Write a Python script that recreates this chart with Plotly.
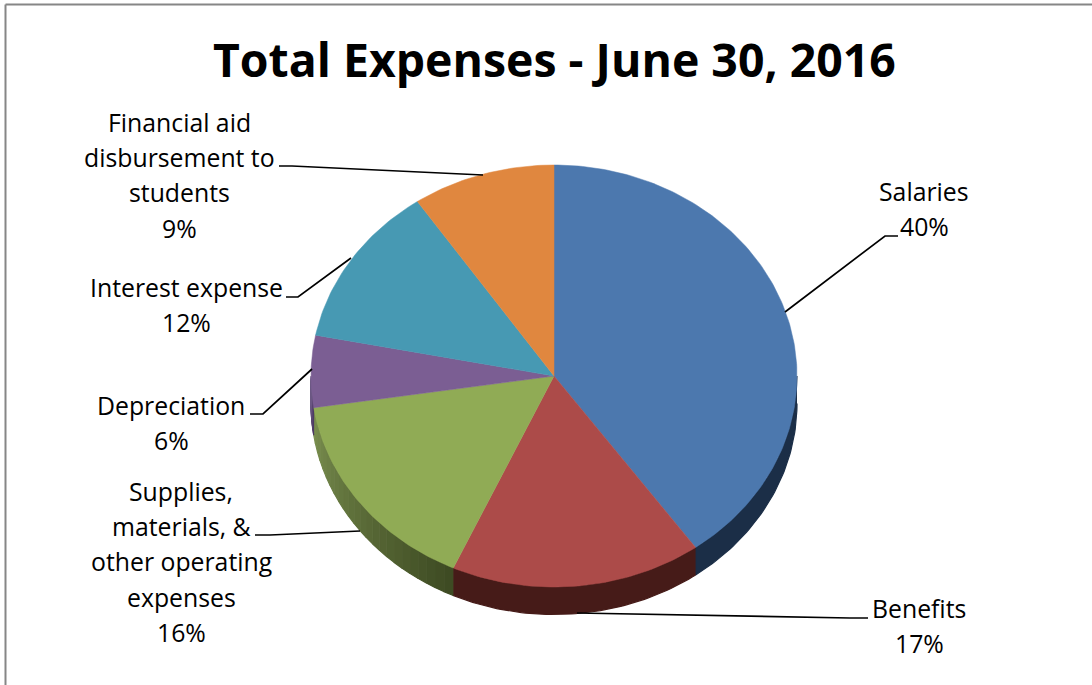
import numpy as np
import plotly.graph_objects as go

categories = ["Salaries", "Benefits", "Supplies, materials, & other operating expenses",
              "Depreciation", "Interest expense", "Financial aid disbursement to students"]
values = [40.1, 16.7, 15.8, 5.5, 12.4, 9.5]
percent_labels = ["40%", "17%", "16%", "6%", "12%", "9%"]
colors = ["#4c78ae", "#ac4b49", "#90ab55", "#7b5e93", "#4799b3", "#e0873f"]
wall_dark = ["#1b2e47", "#461b18", "#3d4a22", "#4a3760", "#2b6070", "#8a5020"]
wall_light = ["#1b2e47", "#461b18", "#7a8f4f", "#6d5a85", "#2b6070", "#8a5020"]
label_lines = [["Salaries"], ["Benefits"], ["Supplies,", "materials, &", "other operating", "expenses"],
               ["Depreciation"], ["Interest expense"], ["Financial aid", "disbursement to", "students"]]
title = "Total Expenses - June 30, 2016"

CX, CY, RX, RY, DEPTH = 554.0, 376.0, 243.0, 211.0, 28.0
label_x = [924, 919, 181, 171, 186, 179]
label_y = [190.5, 607.5, 490.5, 404.5, 286.5, 121.5]
LINE_H = 35.4
leaders = [[(898, 236), (885, 236), (785, 312)],
           [(868, 618), (850, 618), (577, 613)],
           [(255, 535), (270, 535), (360, 531)],
           [(250, 414), (263, 414), (312, 369)],
           [(286, 297), (298, 297), (351, 258)],
           [(279, 166), (292, 166), (483, 175)]]
FONT = "Open Sans"


def hex2rgb(h):
    return np.array([int(h[i:i + 2], 16) for i in (1, 3, 5)], dtype=float)


def rim(a0, a1, n=None):
    n = n or max(3, int(abs(a1 - a0) * 60))
    t = np.linspace(a0, a1, n)
    return CX + RX * np.sin(t), CY - RY * np.cos(t)


fig = go.Figure()
cum = np.concatenate([[0], np.cumsum(values)]) / sum(values) * 2 * np.pi


def add_poly(x, y, color):
    fig.add_trace(go.Scatter(x=x, y=y, mode="lines", fill="toself", fillcolor=color,
                             line=dict(color=color, width=1.2), hoverinfo="skip", showlegend=False))


# side walls (only the front half of the rim is visible)
for i in range(len(values)):
    a0, a1 = max(cum[i], np.pi / 2), min(cum[i + 1], 3 * np.pi / 2)
    if a1 <= a0:
        continue
    n_strips = 24 if wall_light[i] != wall_dark[i] else 1
    edges = np.linspace(a0, a1, n_strips + 1)
    for k in range(n_strips):
        f = (k + 0.5) / n_strips
        c = hex2rgb(wall_dark[i]) * (1 - f) + hex2rgb(wall_light[i]) * f
        x, y = rim(edges[k], edges[k + 1])
        add_poly(np.r_[x, x[::-1]], np.r_[y, y[::-1] + DEPTH - 0.5],
                 "#%02x%02x%02x" % tuple(int(round(v)) for v in c))

# top faces
for i, name in enumerate(categories):
    x, y = rim(cum[i], cum[i + 1])
    fig.add_trace(go.Scatter(x=np.r_[CX, x, CX], y=np.r_[CY, y, CY], mode="lines", fill="toself",
                             fillcolor=colors[i], line=dict(color=colors[i], width=0.5),
                             name=name, text=f"{name}: {percent_labels[i]}", hoverinfo="text",
                             showlegend=False))

# leader lines
for pts in leaders:
    fig.add_trace(go.Scatter(x=[p[0] for p in pts], y=[p[1] for p in pts], mode="lines",
                             line=dict(color="black", width=1.7), hoverinfo="skip", showlegend=False))

# labels, one annotation per line for the exact line spacing
annotations = []
for i, lines in enumerate(label_lines):
    for j, t in enumerate(lines + [percent_labels[i]]):
        annotations.append(dict(x=label_x[i], y=label_y[i] + j * LINE_H, text=t, showarrow=False,
                                xref="x", yref="y", xanchor="center", yanchor="middle",
                                font=dict(family=FONT, size=24.8, color="black")))
annotations.append(dict(x=554, y=59, text=f"<b>{title}</b>", showarrow=False, xref="x", yref="y",
                        xanchor="center", yanchor="middle",
                        font=dict(family=FONT, size=46.4, color="black")))

shapes = [dict(type="line", x0=5.5, x1=5.5, y0=4.5, y1=685, xref="x", yref="y",
               line=dict(color="#868686", width=2)),
          dict(type="line", x0=5.5, x1=1092, y0=4.5, y1=4.5, xref="x", yref="y",
               line=dict(color="#868686", width=2))]

fig.update_layout(width=1092, height=685, margin=dict(l=0, r=0, t=0, b=0),
                  paper_bgcolor="white", plot_bgcolor="white", showlegend=False,
                  annotations=annotations, shapes=shapes,
                  xaxis=dict(range=[0, 1092], visible=False, fixedrange=True),
                  yaxis=dict(range=[685, 0], visible=False, fixedrange=True))
fig.write_html("out.html", config=dict(displayModeBar=False),
               post_script="document.body.style.margin='0';document.body.style.overflow='hidden';")
